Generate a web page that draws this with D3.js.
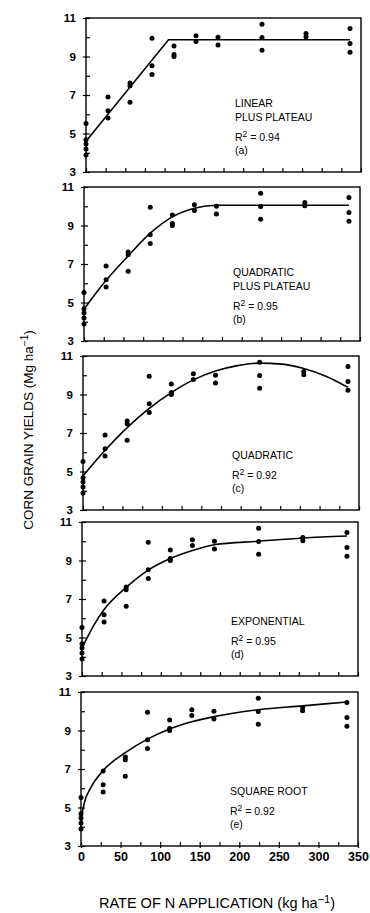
<!DOCTYPE html>
<html>
<head>
<meta charset="utf-8">
<script src="https://cdn.jsdelivr.net/npm/d3@7"></script>
<style>
  body { margin: 0; background: #fff; }
  svg { display: block; font-family: "Liberation Sans", Arial, sans-serif; }
</style>
</head>
<body>
<svg id="chart" width="370" height="913"></svg>
<script>
// N rates (kg/ha) and observed yields at each rate (Mg/ha)
const nRates = [0, 28, 56, 84, 112, 140, 168, 224, 280, 336];
const yields = [
  [5.52, 4.67, 4.46, 4.19, 3.88],
  [6.9, 6.18, 5.8],
  [7.62, 7.48, 6.62],
  [9.95, 8.52, 8.06],
  [9.55, 9.1, 9.0],
  [10.08, 9.78],
  [10.0, 9.6],
  [10.68, 9.99, 9.32],
  [10.2, 10.03],
  [10.45, 9.67, 9.22]
];

// fitted curves as [N rate, yield]
const fitLinearPlateau = [[0, 4.6], [105, 9.87], [336, 9.87]];
const fitQuadPlateau = [[0, 4.65], [28, 6.15], [56, 7.42], [84, 8.6], [112, 9.45], [140, 9.9], [168, 10.05], [200, 10.05], [336, 10.05]];
const fitQuadratic = [[0, 4.77], [28, 6.1], [56, 7.28], [84, 8.28], [112, 9.1], [140, 9.76], [168, 10.22], [196, 10.5], [224, 10.63], [252, 10.58], [280, 10.35], [308, 9.95], [336, 9.37]];
const fitExponential = [[0, 4.44], [14, 5.56], [28, 6.45], [56, 7.6], [84, 8.5], [112, 9.1], [140, 9.52], [168, 9.82], [224, 10.0], [280, 10.17], [336, 10.27]];
const fitSqrt = [[0, 3.8], [1, 4.5], [4, 5.2], [12, 6.0], [28, 6.92], [56, 7.85], [84, 8.55], [112, 9.08], [140, 9.45], [168, 9.72], [224, 10.08], [280, 10.28], [336, 10.48]];

const modelNames = [["LINEAR", "PLUS PLATEAU"], ["QUADRATIC", "PLUS PLATEAU"], ["QUADRATIC"], ["EXPONENTIAL"], ["SQUARE ROOT"]];
const r2Values = ["0.94", "0.95", "0.92", "0.95", "0.92"];
const panelTags = ["(a)", "(b)", "(c)", "(d)", "(e)"];
const fits = [fitLinearPlateau, fitQuadPlateau, fitQuadratic, fitExponential, fitSqrt];

const yTickLabels = [3, 5, 7, 9, 11];
const xTickLabels = [0, 50, 100, 150, 200, 250, 300, 350];

// panel layout (the scan is slightly skewed, so each panel sits a bit differently)
const panelTop = [18, 187, 356, 522, 692];
const panelLeft = [86, 84, 83, 82, 81];
const panelRight = [361, 360, 359, 358, 358];
const panelH = 154;

const svg = d3.select("#chart");

const points = [];
nRates.forEach((n, i) => yields[i].forEach(v => points.push({ n: n, v: v })));

fits.forEach((fit, p) => {
  const x = d3.scaleLinear().domain([0, 350]).range([panelLeft[p], panelRight[p]]);
  const y = d3.scaleLinear().domain([3, 11]).range([panelTop[p] + panelH, panelTop[p]]);
  const g = svg.append("g");

  // frame
  g.append("rect")
    .attr("x", x(0)).attr("y", y(11))
    .attr("width", x(350) - x(0)).attr("height", y(3) - y(11))
    .attr("fill", "none").attr("stroke", "#000").attr("stroke-width", 1.4);

  // y axis: inward minor ticks every unit, labels every 2
  g.append("g")
    .attr("transform", "translate(" + x(0) + ",0)")
    .call(d3.axisRight(y).tickValues(d3.range(3, 12)).tickSize(4).tickFormat(""))
    .call(a => a.select(".domain").remove())
    .call(a => a.selectAll("line").attr("stroke-width", 1.2));

  g.append("g")
    .attr("transform", "translate(" + x(0) + ",0)")
    .call(d3.axisLeft(y).tickValues(yTickLabels).tickSize(3).tickPadding(7))
    .call(a => a.select(".domain").remove())
    .call(a => a.selectAll("line").attr("stroke-width", 1.2))
    .call(a => a.selectAll("text")
      .attr("font-family", "'Liberation Sans', Arial, sans-serif")
      .attr("font-size", 11.5).attr("font-weight", "bold").attr("fill", "#000"));

  // x axis: inward ticks every 25
  g.append("g")
    .attr("transform", "translate(0," + y(3) + ")")
    .call(d3.axisTop(x).tickValues(d3.range(0, 351, 25)).tickSize(4).tickFormat(""))
    .call(a => a.select(".domain").remove())
    .call(a => a.selectAll("line").attr("stroke-width", 1.2));

  if (p === fits.length - 1) {
    g.append("g")
      .attr("transform", "translate(0," + y(3) + ")")
      .call(d3.axisBottom(x).tickValues(xTickLabels).tickSize(2).tickPadding(4))
      .call(a => a.select(".domain").remove())
      .call(a => a.selectAll("line").attr("stroke-width", 1.2))
      .call(a => a.selectAll("text")
        .attr("font-family", "'Liberation Sans', Arial, sans-serif")
        .attr("font-size", 12.5).attr("font-weight", "bold").attr("fill", "#000"));
  }

  // observations
  g.append("g").selectAll("circle")
    .data(points)
    .enter().append("circle")
    .attr("cx", d => x(d.n))
    .attr("cy", d => y(d.v))
    .attr("r", 2.5)
    .attr("fill", "#000");

  // fitted curve
  const line = d3.line()
    .x(d => x(d[0]))
    .y(d => y(d[1]))
    .curve(p === 0 ? d3.curveLinear : d3.curveMonotoneX);

  g.append("path")
    .datum(fit)
    .attr("d", line)
    .attr("fill", "none")
    .attr("stroke", "#000")
    .attr("stroke-width", 1.6);

  // model label
  const tx = panelLeft[p] + 149;
  const base = y(3);
  const names = modelNames[p];
  const label = g.append("g").attr("font-size", 10.5).attr("fill", "#000");
  names.forEach((nm, i) => {
    label.append("text")
      .attr("x", tx)
      .attr("y", base - 51 - (names.length - 1 - i) * 14)
      .text(nm);
  });
  const r2 = label.append("text").attr("x", tx).attr("y", base - 31);
  r2.append("tspan").text("R");
  r2.append("tspan").attr("dy", -4).attr("font-size", 8.5).text("2");
  r2.append("tspan").attr("dy", 4).text(" = " + r2Values[p]);
  label.append("text")
    .attr("x", tx)
    .attr("y", base - 18)
    .text(panelTags[p]);
});

// axis titles
const yTitle = svg.append("text")
  .attr("transform", "translate(33,430) rotate(-90)")
  .attr("text-anchor", "middle")
  .attr("font-size", 13.5);
yTitle.append("tspan").text("CORN GRAIN YIELDS (Mg ha");
yTitle.append("tspan").attr("dy", -5).attr("font-size", 10).text("\u22121");
yTitle.append("tspan").attr("dy", 5).text(")");

const xTitle = svg.append("text")
  .attr("x", 217)
  .attr("y", 908)
  .attr("text-anchor", "middle")
  .attr("font-size", 14.5);
xTitle.append("tspan").text("RATE OF N APPLICATION (kg ha");
xTitle.append("tspan").attr("dy", -5).attr("font-size", 11).text("\u22121");
xTitle.append("tspan").attr("dy", 5).text(")");
</script>
</body>
</html>
